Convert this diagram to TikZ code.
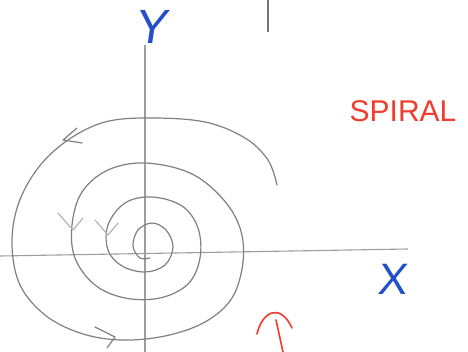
\documentclass[tikz,border=0pt]{standalone}
\usepackage{fontspec}
\setmainfont{Liberation Sans}
\definecolor{penblue}{RGB}{35,80,200}
\definecolor{penred}{RGB}{240,60,45}
\begin{document}
\begin{tikzpicture}[x=1pt,y=-1pt,
  axis/.style={draw=black!38,line width=1.1pt},
  curve/.style={draw=black!50,line width=1.2pt,line cap=round,line join=round},
  faint/.style={draw=black!30,line width=1.1pt,line cap=round,line join=round},
  redink/.style={draw=penred,line width=1.6pt,line cap=round},
  bluelab/.style={text=penblue,inner sep=0pt,font=\fontsize{48}{48}\selectfont},
  redlab/.style={text=penred,inner sep=0pt,font=\fontsize{30}{30}\selectfont}]
\useasboundingbox (0,0) rectangle (468,352);
\fill[white] (0,0) rectangle (468,352);
% axes
\draw[axis] (0,256) -- (408,249);
\draw[axis] (145,45) -- (145,352);
% top stray line
\draw[draw=black!55,line width=1.3pt] (268,0) -- (268,32);
% labels
\node[bluelab,xslant=0.15] (ylab) at (153,27) {Y};
\node[bluelab,font=\fontsize{44}{44}\selectfont,xslant=0.1] (xlab) at (394,279) {X};
\node[redlab] (spiral) at (403,111) {SPIRAL};
% spiral
\draw[curve] plot[smooth,tension=0.6] coordinates {
(277,185) (268,160) (245,138) (205,122) (150,118) (105,122) (68,140)
(38,168) (18,205) (12,245) (20,285) (45,315) (80,333) (120,340)
(165,336) (205,322) (232,298) (243,262) (240,228) (222,198) (190,173)
(145,163) (108,170) (82,192) (72,225) (75,258) (95,285) (125,298)
(160,298) (188,284) (200,258) (198,228) (182,206) (152,197) (125,203)
(108,225) (108,250) (122,266) (145,272) (165,265) (173,247) (166,230)
(152,223) (138,230) (133,246) (140,258) (150,258)};
% arrowheads
\draw[curve] (77,128) -- (63,140) -- (82,143);
\draw[curve] (95,327) -- (115,337) -- (107,348);
\draw[faint] (58,213) -- (73,230) -- (83,218);
\draw[faint] (95,220) -- (108,235) -- (118,223);
% red mark
\draw[redink] (257,334) .. controls (262,312) and (280,302) .. (292,328);
\draw[redink] (276,320) -- (283,352);
\end{tikzpicture}
\end{document}
